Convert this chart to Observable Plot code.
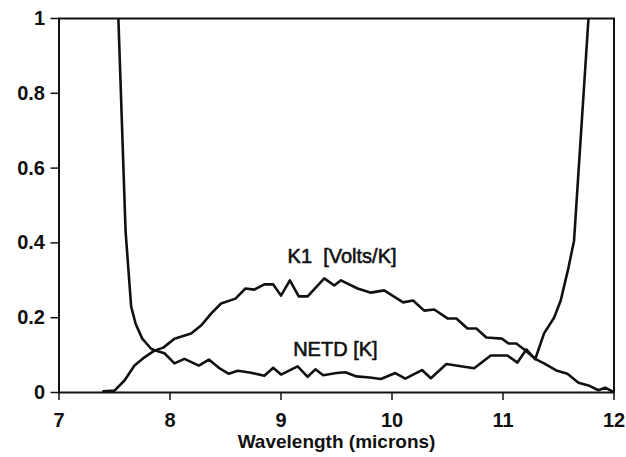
<!DOCTYPE html>
<html>
<head>
<meta charset="utf-8">
<script src="https://cdn.jsdelivr.net/npm/d3@7"></script>
<script src="https://cdn.jsdelivr.net/npm/@observablehq/plot@0.6"></script>
<style>
  html, body { margin: 0; padding: 0; background: #fff; }
  #chart svg { display: block; }
</style>
</head>
<body>
<div id="chart"></div>
<script>
// Wavelength (microns) and K1 [Volts/K]
const k1Wavelength = [7.40, 7.50, 7.59, 7.68, 7.77, 7.86, 7.94, 8.04, 8.19, 8.28, 8.37, 8.46, 8.59, 8.68, 8.76, 8.85, 8.93, 9.00, 9.08, 9.16, 9.24, 9.39, 9.48, 9.54, 9.69, 9.81, 9.93, 10.10, 10.19, 10.29, 10.38, 10.50, 10.58, 10.68, 10.76, 10.85, 10.99, 11.05, 11.12, 11.20, 11.29, 11.37, 11.48, 11.58, 11.68, 11.77, 11.86, 11.92, 11.99];
const k1Values = [0.003, 0.005, 0.032, 0.072, 0.094, 0.112, 0.120, 0.144, 0.158, 0.179, 0.211, 0.238, 0.251, 0.278, 0.275, 0.289, 0.289, 0.259, 0.300, 0.257, 0.257, 0.305, 0.286, 0.300, 0.278, 0.267, 0.273, 0.241, 0.246, 0.219, 0.222, 0.198, 0.198, 0.171, 0.171, 0.147, 0.144, 0.131, 0.131, 0.113, 0.090, 0.078, 0.059, 0.050, 0.026, 0.019, 0.006, 0.013, 0.002];

// Wavelength (microns) and NETD [K]
const netdWavelength = [7.535, 7.60, 7.65, 7.69, 7.75, 7.83, 7.87, 7.95, 8.04, 8.13, 8.26, 8.35, 8.44, 8.53, 8.61, 8.73, 8.85, 8.93, 9.00, 9.15, 9.24, 9.31, 9.38, 9.50, 9.58, 9.68, 9.80, 9.90, 10.03, 10.12, 10.27, 10.35, 10.49, 10.62, 10.74, 10.89, 11.04, 11.13, 11.21, 11.29, 11.37, 11.46, 11.52, 11.59, 11.64, 11.77];
const netdValues = [1.0, 0.43, 0.23, 0.184, 0.144, 0.117, 0.112, 0.105, 0.078, 0.090, 0.072, 0.088, 0.066, 0.050, 0.058, 0.053, 0.045, 0.066, 0.048, 0.070, 0.042, 0.062, 0.046, 0.052, 0.054, 0.043, 0.040, 0.036, 0.052, 0.037, 0.060, 0.038, 0.076, 0.070, 0.065, 0.099, 0.099, 0.080, 0.115, 0.089, 0.158, 0.200, 0.246, 0.334, 0.406, 1.0];

const xTicks = [7, 8, 9, 10, 11, 12];
const yTicks = [0, 0.2, 0.4, 0.6, 0.8, 1];

const curveLabels = ["K1\u00a0\u00a0[Volts/K]", "NETD [K]"];
const curveLabelX = [9.55, 9.49];
const curveLabelY = [0.364, 0.115];

const k1 = k1Wavelength.map((x, i) => ({x, y: k1Values[i]}));
const netd = netdWavelength.map((x, i) => ({x, y: netdValues[i]}));
const labels = curveLabels.map((t, i) => ({t, x: curveLabelX[i], y: curveLabelY[i]}));

const font = "'Liberation Sans', Arial, sans-serif";
const fmt = d => String(d);

const chart = Plot.plot({
  width: 626,
  height: 457,
  marginLeft: 58.5,
  marginRight: 12.5,
  marginTop: 18,
  marginBottom: 65,
  style: {fontFamily: font, fontSize: "19px", fontWeight: "bold", color: "#111", background: "#fff"},
  x: {domain: [7, 12]},
  y: {domain: [0, 1]},
  marks: [
    Plot.frame({stroke: "#111", strokeWidth: 2}),
    Plot.axisX({ticks: xTicks, tickFormat: fmt, tickSize: 8, tickPadding: 12, label: null, fontSize: 20, strokeWidth: 1.5}),
    Plot.axisY({ticks: yTicks, tickFormat: fmt, tickSize: 8, tickPadding: 6, label: null, fontSize: 20, strokeWidth: 1.5}),
    Plot.line(k1, {x: "x", y: "y", stroke: "#111", strokeWidth: 2.6, clip: true}),
    Plot.line(netd, {x: "x", y: "y", stroke: "#111", strokeWidth: 2.6, clip: true}),
    Plot.text(labels, {x: "x", y: "y", text: "t", fontSize: 20, fontWeight: "normal", fill: "#111", stroke: "#111", strokeWidth: 0.6}),
    Plot.text(["Wavelength (microns)"], {frameAnchor: "bottom", dy: 55, fontSize: 19, fontWeight: "bold", fill: "#111"})
  ]
});
document.getElementById("chart").appendChild(chart);
</script>
</body>
</html>
